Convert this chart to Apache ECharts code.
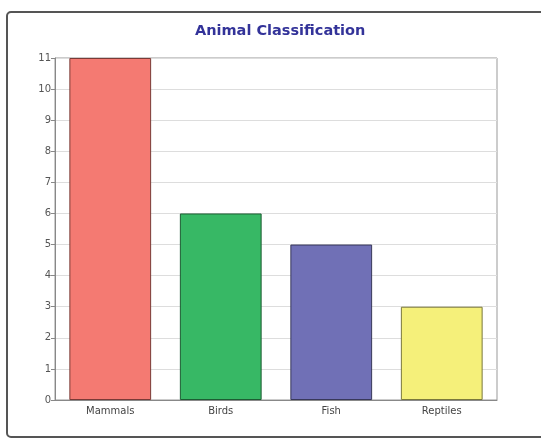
<!DOCTYPE html>
<html>
<head>
<meta charset="utf-8">
<script src="https://cdn.jsdelivr.net/npm/echarts@6/dist/echarts.min.js"></script>
<style>
  html, body { margin: 0; padding: 0; background: #fff; }
  #chart { width: 541px; height: 441px; }
</style>
</head>
<body>
<div id="chart"></div>
<script>
const categories = ['Mammals', 'Birds', 'Fish', 'Reptiles']
const counts = [11, 6, 5, 3]
const barColors = ['#f47a72', '#37b865', '#7070b6', '#f5f07a']
const edgeColors = ['#7a3a36', '#1c5c32', '#38385a', '#7a783c']

const chart = echarts.init(document.getElementById('chart'))

chart.setOption({
  animation: false,
  backgroundColor: '#fff',
  title: {
    text: 'Animal Classification',
    left: 190,
    top: 19,
    textStyle: {
      fontFamily: 'DejaVu Sans',
      fontSize: 14.5,
      fontWeight: 'bold',
      color: '#333399',
    },
  },
  graphic: [
    {
      type: 'rect',
      shape: { x: 7, y: 12, width: 540, height: 425, r: 4 },
      style: { fill: 'none', stroke: '#555', lineWidth: 2 },
      z: -1,
    },
  ],
  grid: {
    left: 55,
    right: 44,
    top: 58,
    bottom: 41,
    show: true,
    borderColor: '#999',
    borderWidth: 1,
    backgroundColor: '#fff',
  },
  xAxis: {
    type: 'category',
    data: categories,
    axisLine: { lineStyle: { color: '#888' } },
    axisTick: { alignWithLabel: true, length: 4, lineStyle: { color: '#666' } },
    axisLabel: { fontFamily: 'DejaVu Sans', fontSize: 10, color: '#444', margin: 6 },
  },
  yAxis: {
    type: 'value',
    min: 0,
    max: 11,
    interval: 1,
    axisLine: { show: true, lineStyle: { color: '#888' } },
    axisTick: { show: true, length: 4, lineStyle: { color: '#888' } },
    axisLabel: { fontFamily: 'DejaVu Sans', fontSize: 10, color: '#555', margin: 4 },
    splitLine: { lineStyle: { color: '#ddd' } },
  },
  series: [
    {
      type: 'bar',
      barWidth: '74%',
      data: counts.map((v, i) => ({
        value: v,
        itemStyle: { color: barColors[i], borderColor: edgeColors[i], borderWidth: 1 },
      })),
    },
  ],
})
</script>
</body>
</html>
